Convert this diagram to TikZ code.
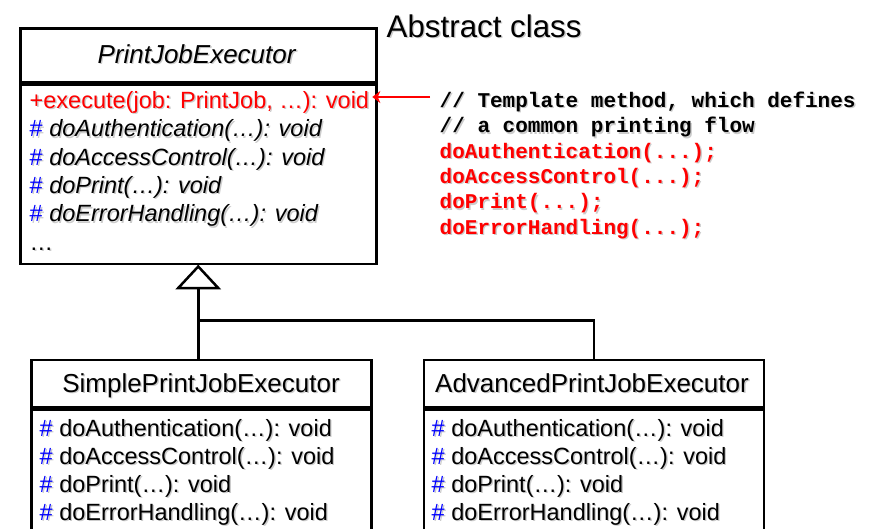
\documentclass[tikz,border=0pt]{standalone}
\usepackage{fontspec}
\setmainfont{Liberation Sans}
\newfontfamily\codefont{Liberation Mono}
\usetikzlibrary{arrows.meta,calc}

\definecolor{keyred}{RGB}{255,0,0}
\definecolor{hashblue}{RGB}{0,0,255}
\colorlet{shade}{black!20}

% text with a soft drop shadow behind it
\newcommand\shadowed[1]{\leavevmode\rlap{\kern1.4pt\raisebox{-1.4pt}{\colorlet{keyred}{shade}\colorlet{hashblue}{shade}\color{shade}#1}}#1}
\newcommand\hash{\textcolor{hashblue}{\#}}

\begin{document}
\begin{tikzpicture}[x=1pt,y=-1pt,
  compartment/.style={draw=black, line width=2.5pt, inner sep=0pt, anchor=north west, fill=white},
  classname/.style={anchor=base, inner sep=0pt, font=\fontsize{26}{30}\selectfont},
  member/.style={anchor=base west, inner sep=0pt, font=\fontsize{23.5}{28}\selectfont},
  codeline/.style={anchor=base west, inner sep=0pt, font=\codefont\bfseries\fontsize{21}{25}\selectfont},
  link/.style={draw=black, line width=2.5pt},
  callout/.style={draw=keyred, line width=2pt, -{Stealth[length=8pt,width=12pt,inset=2.5pt]}},
]
\useasboundingbox (0,0) rectangle (873,528);

% ---- abstract base class ----
\node[compartment, minimum width=356pt, minimum height=54pt] (baseTitle) at (19,27) {};
\node[compartment, minimum width=356pt, minimum height=179pt] (baseBody) at (baseTitle.south west) {};
\node[classname] (baseName) at (197,63.3) {\shadowed{\textit{PrintJobExecutor}}};
\node[member] (exec) at (29.5,108.3) {\shadowed{\textcolor{keyred}{+execute(job: PrintJob, …): void}}};
\node[member] (bAuth)  at (29.5,136.7) {\shadowed{\hash\ \textit{doAuthentication(…): void}}};
\node[member] (bAcc)   at (29.5,165.0) {\shadowed{\hash\ \textit{doAccessControl(…): void}}};
\node[member] (bPrint) at (29.5,193.3) {\shadowed{\hash\ \textit{doPrint(…): void}}};
\node[member] (bErr)   at (29.5,221.7) {\shadowed{\hash\ \textit{doErrorHandling(…): void}}};
\node[member] (bMore)  at (29.5,250.5) {\shadowed{…}};

\node[anchor=base west, inner sep=0pt, font=\fontsize{31.3}{36}\selectfont] (abstractLabel) at (386.5,37.3) {\shadowed{Abstract class}};

% ---- template method body ----
\node[codeline] (c1) at (439.5,107.3) {\shadowed{// Template method, which defines}};
\node[codeline] (c2) at (439.5,132.7) {\shadowed{// a common printing flow}};
\node[codeline] (c3) at (439.5,158.1) {\shadowed{\textcolor{keyred}{doAuthentication(...);}}};
\node[codeline] (c4) at (439.5,183.5) {\shadowed{\textcolor{keyred}{doAccessControl(...);}}};
\node[codeline] (c5) at (439.5,208.9) {\shadowed{\textcolor{keyred}{doPrint(...);}}};
\node[codeline] (c6) at (439.5,234.3) {\shadowed{\textcolor{keyred}{doErrorHandling(...);}}};

\coordinate (calloutStart) at (430,97);
\draw[callout] (calloutStart) -- ([xshift=3pt]calloutStart -| exec.east);

% ---- concrete subclasses ----
\node[compartment, minimum width=340pt, minimum height=47.5pt] (leftTitle) at (30,358.5) {};
\node[compartment, minimum width=340pt, minimum height=140pt] (leftBody) at (leftTitle.south west) {};
\node[classname] (leftName) at (201,392.3) {\shadowed{SimplePrintJobExecutor}};
\node[member] (lAuth)  at (39.5,436.0) {\shadowed{\hash\ doAuthentication(…): void}};
\node[member] (lAcc)   at (39.5,464.3) {\shadowed{\hash\ doAccessControl(…): void}};
\node[member] (lPrint) at (39.5,492.0) {\shadowed{\hash\ doPrint(…): void}};
\node[member] (lErr)   at (39.5,520.5) {\shadowed{\hash\ doErrorHandling(…): void}};

\node[compartment, minimum width=340pt, minimum height=47.5pt] (rightTitle) at (422.5,358.5) {};
\node[compartment, minimum width=340pt, minimum height=140pt] (rightBody) at (rightTitle.south west) {};
\node[classname] (rightName) at (592,392.3) {\shadowed{AdvancedPrintJobExecutor}};
\node[member] (rAuth)  at (431.5,436.0) {\shadowed{\hash\ doAuthentication(…): void}};
\node[member] (rAcc)   at (431.5,464.3) {\shadowed{\hash\ doAccessControl(…): void}};
\node[member] (rPrint) at (431.5,492.0) {\shadowed{\hash\ doPrint(…): void}};
\node[member] (rErr)   at (431.5,520.5) {\shadowed{\hash\ doErrorHandling(…): void}};

% ---- generalization ----
\coordinate (apex) at ($(baseBody.south)+(0,1.5)$);
\coordinate (triBase) at ($(apex)+(0,21.5)$);
\coordinate (branch) at (0,320.5);
\draw[link] (triBase) -- (triBase |- leftTitle.north);
\draw[link] (triBase |- branch) -| (rightTitle.north);
\draw[link, fill=white, line join=miter] (apex) -- ($(triBase)+(-20,0)$) -- ($(triBase)+(20,0)$) -- cycle;
\end{tikzpicture}
\end{document}
